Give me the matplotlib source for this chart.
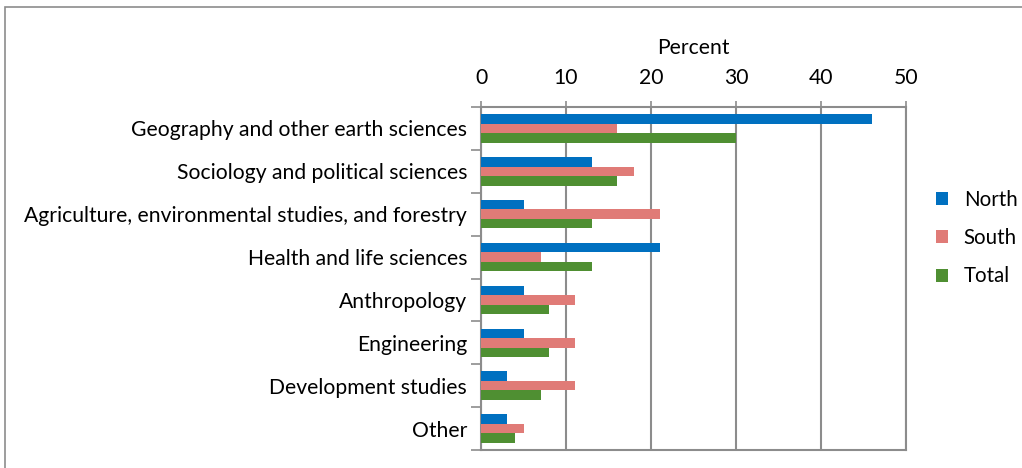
import matplotlib.pyplot as plt
import numpy as np
from matplotlib.patches import Rectangle

# Data
categories = ['Geography and other earth sciences', 'Sociology and political sciences',
              'Agriculture, environmental studies, and forestry', 'Health and life sciences',
              'Anthropology', 'Engineering', 'Development studies', 'Other']
north = [46, 13, 5, 21, 5, 5, 3, 3]
south = [16, 18, 21, 7, 11, 11, 11, 5]
total = [30, 16, 13, 13, 8, 8, 7, 4]
series_names = ['North', 'South', 'Total']
colors = ['#0070C0', '#E07B77', '#4F8F32']
xticks = [0, 10, 20, 30, 40, 50]

plt.rcParams['font.family'] = ['Lato', 'DejaVu Sans']
fs = 15.2

fig = plt.figure(figsize=(10.22, 4.68), dpi=100)
ax = fig.add_axes([481 / 1022, 1 - 450 / 468, 425 / 1022, 343 / 468])

# outer border of the chart area
fig.patches.append(Rectangle((5 / 1022, -0.05), 1.2, (468 - 7) / 468 + 0.05,
                             transform=fig.transFigure, fill=False,
                             edgecolor='#8c8c8c', linewidth=1.2))

y = np.arange(len(categories))
h = 0.222
for i, (vals, name) in enumerate(zip([north, south, total], series_names)):
    ax.barh(y + (i - 1) * h, vals, height=h, color=colors[i], label=name, zorder=3)

ax.set_xlim(0, 50)
ax.set_ylim(len(categories) - 0.5, -0.5)

# x axis on top
ax.xaxis.set_ticks_position('top')
ax.xaxis.set_label_position('top')
ax.set_xticks(xticks)
ax.tick_params(axis='x', direction='inout', length=8, width=1.2, color='#8c8c8c',
               labelsize=fs, pad=10)
ax.set_xlabel('Percent', fontsize=fs, labelpad=10)
ax.xaxis.grid(True, color='#8c8c8c', linewidth=1.5, zorder=0)

# y ticks: labels centred, tick marks at boundaries
ax.set_yticks(y)
ax.set_yticklabels(categories, fontsize=fs)
ax.set_yticks(np.arange(len(categories) + 1) - 0.5, minor=True)
ax.tick_params(axis='y', which='major', length=0, pad=10)
ax.tick_params(axis='y', which='minor', length=7, width=1.2, color='#8c8c8c')

for side in ['top', 'left', 'bottom', 'right']:
    ax.spines[side].set_color('#8c8c8c')
    ax.spines[side].set_linewidth(1.5)

ax.legend(loc='center left', bbox_to_anchor=(936 / 1022, 1 - 238 / 468),
          bbox_transform=fig.transFigure, frameon=False, fontsize=14.8,
          handlelength=0.6, handleheight=0.6, handletextpad=0.75, labelspacing=0.9,
          borderaxespad=0, borderpad=0)

fig.savefig('out.png', dpi=100)
